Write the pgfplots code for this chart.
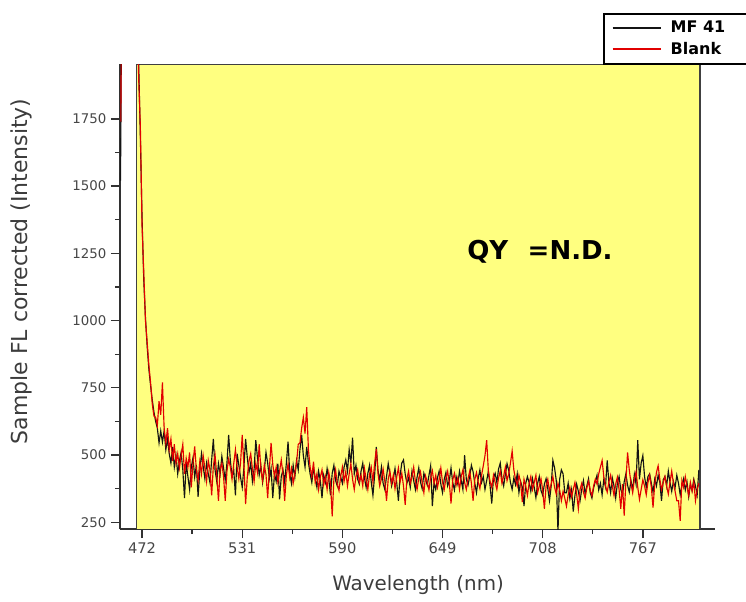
\documentclass[border=0pt]{standalone}
\usepackage{pgfplots}
\pgfplotsset{compat=1.18}
\usepackage{graphicx}
\usepackage{fontspec}
\setmainfont{DejaVu Sans}
\definecolor{bgyellow}{RGB}{255,255,128}
\definecolor{axisgray}{RGB}{50,50,50}
\definecolor{ticktext}{RGB}{70,70,70}
\definecolor{labelgray}{RGB}{60,60,60}
\definecolor{mfblack}{RGB}{20,20,20}
\definecolor{blankred}{RGB}{225,0,0}
\begin{document}
\begin{tikzpicture}
\begin{axis}[
  scale only axis, width=446.25pt, height=348.75pt,
  at={(0,0)}, anchor=south west,
  xmin=459, xmax=809.5, ymin=225, ymax=1954,
  axis x line=bottom, axis y line=left,
  axis line style={-, draw=axisgray, line width=1.1pt},
  xtick={472,531,590,649,708,767}, ytick={250,500,...,1750},
  minor x tick num=1, minor y tick num=1,
  tick align=outside, major tick length=6.75pt, minor tick length=3.75pt,
  tick style={axisgray, line width=1pt},
  minor tick style={axisgray, line width=1pt},
  /pgf/number format/assume math mode=true,
  /pgf/number format/set thousands separator={},
  xticklabel style={font=\fontsize{11}{13}\selectfont, text=ticktext},
  yticklabel style={font=\fontsize{10}{12}\selectfont, text=ticktext},
  xlabel={Wavelength (nm)},
  ylabel={Sample FL corrected (Intensity)},
  xlabel style={at={(axis description cs:0.501,-0.12)}, anchor=center, font=\fontsize{14.9}{17}\selectfont, text=labelgray},
  ylabel style={at={(axis description cs:-0.166,0.554)}, anchor=center, font=\fontsize{16.5}{18}\selectfont, text=labelgray},
  legend style={at={(axis description cs:0.8118,1.1103)}, anchor=north west, draw=black, line width=1.5pt, fill=white, font=\bfseries\fontsize{12}{14}\selectfont, inner xsep=6pt, inner ysep=3.5pt, row sep=1.5pt},
  legend cell align=left,
  legend image code/.code={\draw[#1, line width=1pt] (0pt,0pt) -- (36pt,0pt);},
]
\fill[bgyellow] (axis cs:468.8,225) rectangle (axis cs:800.6,1954);
\draw[black!75, line width=1.1pt] (axis cs:468.8,225) -- (axis cs:468.8,1954) -- (axis cs:800.6,1954) -- (axis cs:800.6,225);

\addplot[mfblack, line width=0.85pt] coordinates {
(459.3,1520)(459.6,1780)(460.5,3000)(468,3000)(469.2,2300)(470,1960)(471,1680)(472,1380)(473,1150)(474,1010)(475,905)(476,820)(477,760)(478,705)(479,660)(480,625)(481,600)(482,545)(483,590)
(484,548)(485,590)(486,520)(487,560)(488,505)(489,470)(490,530)(491,455)(492,498)(493,430)(494,478)(495,510)(496,445)(497,340)(498,470)(499,420)
(500,372)(501,455)(502,490)(503,418)(504,462)(505,345)(506,440)(507,505)(508,458)(509,412)(510,470)(511,430)(512,398)(513,482)(514,560)(515,445)(516,402)(517,468)(518,430)(519,495)
(520,452)(521,408)(522,470)(523,575)(524,480)(525,422)(526,445)(527,350)(528,505)(529,462)(530,418)(531,380)(532,455)(533,560)(534,490)(535,435)(536,470)(537,402)(538,448)(539,555)
(540,488)(541,425)(542,460)(543,398)(544,442)(545,510)(546,470)(547,412)(548,450)(549,340)(550,430)(551,402)(552,468)(553,335)(554,420)(555,445)(556,398)(557,470)(558,550)(559,432)
(560,395)(561,462)(562,418)(563,480)(564,445)(565,520)(566,575)(567,498)(568,455)(569,530)(570,472)(571,430)(572,398)(573,452)(574,415)(575,380)(576,440)(577,405)(578,340)(579,425)
(580,398)(581,450)(582,410)(583,350)(584,432)(585,462)(586,405)(587,385)(588,440)(589,418)(590,395)(591,455)(592,482)(593,440)(594,520)(595,470)(596,565)(597,430)(598,462)(599,410)
(600,392)(601,440)(602,470)(603,415)(604,380)(605,432)(606,462)(607,400)(608,350)(609,425)(610,530)(611,442)(612,408)(613,455)(614,395)(615,372)(616,420)(617,468)(618,430)(619,385)
(620,412)(621,450)(622,398)(623,330)(624,425)(625,470)(626,482)(627,430)(628,395)(629,415)(630,380)(631,440)(632,405)(633,372)(634,418)(635,452)(636,400)(637,375)(638,432)(639,410)
(640,388)(641,425)(642,460)(643,310)(644,398)(645,372)(646,415)(647,440)(648,392)(649,360)(650,410)(651,435)(652,385)(653,405)(654,452)(655,398)(656,370)(657,420)(658,392)(659,440)
(660,405)(661,372)(662,500)(663,410)(664,388)(665,420)(666,462)(667,438)(668,395)(669,360)(670,412)(671,445)(672,398)(673,420)(674,372)(675,405)(676,440)(677,385)(678,320)(679,415)
(680,432)(681,398)(682,448)(683,470)(684,412)(685,385)(686,428)(687,468)(688,442)(689,398)(690,372)(691,415)(692,390)(693,430)(694,360)(695,402)(696,380)(697,310)(698,395)(699,420)
(700,398)(701,365)(702,412)(703,380)(704,342)(705,395)(706,420)(707,368)(708,350)(709,392)(710,412)(711,375)(712,330)(713,385)(714,480)(715,452)(716,405)(717,215)(718,410)(719,445)
(720,430)(721,360)(722,360)(723,395)(724,338)(725,372)(726,290)(727,350)(728,392)(729,365)(730,330)(731,372)(732,405)(733,355)(734,385)(735,412)(736,360)(737,340)(738,378)(739,402)
(740,425)(741,370)(742,395)(743,352)(744,410)(745,382)(746,480)(747,398)(748,360)(749,415)(750,385)(751,340)(752,395)(753,420)(754,372)(755,352)(756,400)(757,430)(758,388)(759,362)
(760,405)(761,370)(762,428)(763,392)(764,555)(765,410)(766,470)(767,498)(768,420)(769,380)(770,420)(771,430)(772,395)(773,362)(774,410)(775,385)(776,425)(777,398)(778,330)(779,408)
(780,420)(781,385)(782,440)(783,398)(784,365)(785,402)(786,380)(787,425)(788,395)(789,352)(790,388)(791,412)(792,370)(793,400)(794,345)(795,390)(796,368)(797,410)(798,385)(799,352)(800,445)
};
\addlegendentry{\hspace{5pt}MF 41\rule{20pt}{0pt}}

\addplot[blankred, line width=0.85pt] coordinates {
(459.5,1740)(460,2400)(468,3000)(469,2200)(470,1900)(471,1720)(472,1350)(473,1180)(474,1000)(475,920)(476,835)(477,770)(478,690)(479,645)(480,640)(481,610)(482,700)(483,650)
(484,770)(485,600)(486,545)(487,600)(488,520)(489,560)(490,478)(491,540)(492,470)(493,505)(494,452)(495,498)(496,540)(497,430)(498,488)(499,455)
(500,510)(501,380)(502,468)(503,532)(504,445)(505,405)(506,475)(507,430)(508,498)(509,452)(510,402)(511,480)(512,445)(513,350)(514,460)(515,500)(516,425)(517,330)(518,448)(519,470)
(520,420)(521,330)(522,440)(523,485)(524,455)(525,410)(526,468)(527,520)(528,455)(529,412)(530,470)(531,575)(532,462)(533,318)(534,420)(535,478)(536,505)(537,448)(538,402)(539,470)
(540,435)(541,540)(542,448)(543,405)(544,462)(545,428)(546,340)(547,450)(548,545)(549,465)(550,420)(551,455)(552,398)(553,440)(554,482)(555,430)(556,330)(557,425)(558,468)(559,415)
(560,450)(561,395)(562,432)(563,470)(564,540)(565,545)(566,600)(567,640)(568,580)(569,678)(570,520)(571,455)(572,420)(573,475)(574,398)(575,430)(576,372)(577,418)(578,445)(579,390)
(580,420)(581,372)(582,435)(583,398)(584,272)(585,410)(586,445)(587,392)(588,368)(589,420)(590,455)(591,402)(592,438)(593,385)(594,430)(595,468)(596,410)(597,372)(598,420)(599,445)
(600,398)(601,425)(602,385)(603,450)(604,410)(605,372)(606,428)(607,455)(608,400)(609,470)(610,522)(611,430)(612,385)(613,412)(614,448)(615,402)(616,330)(617,410)(618,440)(619,395)
(620,425)(621,375)(622,418)(623,452)(624,400)(625,432)(626,385)(627,315)(628,412)(629,440)(630,395)(631,420)(632,455)(633,402)(634,372)(635,415)(636,438)(637,398)(638,360)(639,422)
(640,400)(641,370)(642,418)(643,442)(644,395)(645,425)(646,380)(647,410)(648,452)(649,398)(650,372)(651,415)(652,440)(653,395)(654,320)(655,408)(656,432)(657,388)(658,415)(659,372)
(660,420)(661,445)(662,398)(663,372)(664,412)(665,440)(666,395)(667,330)(668,410)(669,435)(670,400)(671,375)(672,425)(673,460)(674,498)(675,555)(676,440)(677,402)(678,380)(679,425)
(680,398)(681,372)(682,415)(683,440)(684,395)(685,422)(686,455)(687,405)(688,430)(689,470)(690,515)(691,445)(692,410)(693,385)(694,425)(695,398)(696,325)(697,410)(698,385)(699,350)
(700,395)(701,420)(702,372)(703,398)(704,425)(705,360)(706,385)(707,412)(708,370)(709,300)(710,385)(711,410)(712,365)(713,392)(714,420)(715,380)(716,355)(717,395)(718,370)(719,330)
(720,365)(721,340)(722,310)(723,352)(724,380)(725,345)(726,372)(727,398)(728,355)(729,300)(730,372)(731,395)(732,362)(733,340)(734,378)(735,402)(736,370)(737,348)(738,385)(739,410)
(740,392)(741,430)(742,455)(743,480)(744,420)(745,385)(746,362)(747,400)(748,425)(749,385)(750,350)(751,392)(752,418)(753,372)(754,300)(755,392)(756,275)(757,400)(758,510)(759,445)
(760,395)(761,360)(762,410)(763,438)(764,380)(765,335)(766,372)(767,408)(768,385)(769,352)(770,398)(771,425)(772,380)(773,305)(774,392)(775,435)(776,460)(777,410)(778,372)(779,398)
(780,420)(781,385)(782,355)(783,400)(784,440)(785,395)(786,365)(787,330)(788,330)(789,255)(790,405)(791,380)(792,420)(793,385)(794,350)(795,398)(796,365)(797,402)(798,330)(799,372)(800,395)
};
\addlegendentry{\hspace{5pt}Blank}

\node[font=\bfseries\fontsize{19.5}{22}\selectfont, text=black] at (axis cs:706.4,1255) {QY\hspace{0.4em} =N.D.};
\end{axis}
\pgfresetboundingbox
\path[use as bounding box] (current axis.south west) ++(-90pt,-54pt) rectangle ++(559.5pt,450.75pt);
\end{tikzpicture}
\end{document}
